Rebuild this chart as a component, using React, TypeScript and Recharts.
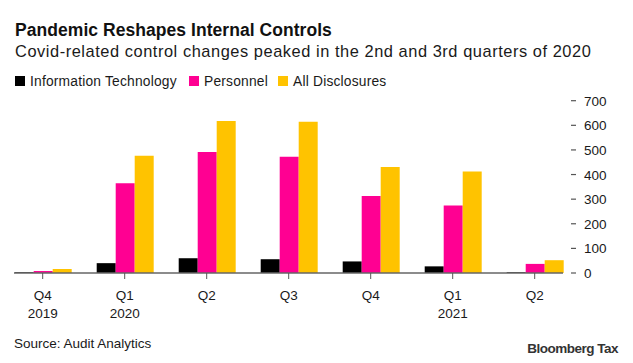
import { BarChart, Bar, XAxis, YAxis } from 'recharts';

const quarters = ['Q4', 'Q1', 'Q2', 'Q3', 'Q4', 'Q1', 'Q2'];
const years = ['2019', '2020', '', '', '', '2021', ''];
const infoTech = [3, 40, 60, 56, 47, 27, 3];
const personnel = [8, 365, 492, 472, 313, 274, 37];
const allDisclosures = [16, 476, 618, 614, 431, 412, 52];
const yTicks = [0, 100, 200, 300, 400, 500, 600, 700];

const data = quarters.map((q, i) => ({
    period: `${q} ${years[i]}`.trim() + `#${i}`,
    quarter: q,
    year: years[i],
    it: infoTech[i],
    personnel: personnel[i],
    all: allDisclosures[i],
}));

const FONT = '"Liberation Sans", Arial, Helvetica, sans-serif';
const TEXT = '#1a1a1a';

const legendItems = [
    { label: 'Information Technology', color: '#000000', x: 15 },
    { label: 'Personnel', color: '#ff0092', x: 189 },
    { label: 'All Disclosures', color: '#ffc300', x: 278 },
];

function QuarterTick(props: any) {
    const { x, y, index } = props;
    const d = data[index];
    return (
        <g>
            <text x={x} y={y + 19} textAnchor="middle" fontSize={13.5} fill={TEXT} fontFamily={FONT}>
                {d.quarter}
            </text>
            {d.year && (
                <text x={x} y={y + 37} textAnchor="middle" fontSize={13.5} fill={TEXT} fontFamily={FONT}>
                    {d.year}
                </text>
            )}
        </g>
    );
}

function ValueTick(props: any) {
    const { x, y, payload } = props;
    return (
        <g>
            <line x1={x + 8} x2={x + 13} y1={y} y2={y} stroke="#555" strokeWidth={1.2} />
            <text x={x + 21} y={y + 5} fontSize={13.5} fill={TEXT} fontFamily={FONT}>
                {payload.value}
            </text>
        </g>
    );
}

export default function App() {
    return (
        <div style={{ position: 'absolute', left: 0, top: 0, width: 633, height: 363, background: '#fff' }}>
            <BarChart
                width={633}
                height={363}
                data={data}
                margin={{ top: 100.7, right: 10, left: 14, bottom: 60 }}
                barCategoryGap={13}
                barGap={0}
            >
                <XAxis
                    dataKey="period"
                    height={30}
                    padding={{ left: -12.3, right: -12.7 }}
                    axisLine={{ stroke: '#666', strokeWidth: 1.5 }}
                    tickLine={{ stroke: '#555' }}
                    tickSize={6}
                    interval={0}
                    tick={<QuarterTick />}
                />
                <YAxis
                    orientation="right"
                    width={60}
                    domain={[0, 700]}
                    ticks={yTicks}
                    axisLine={false}
                    tickLine={false}
                    tickSize={0}
                    tickMargin={0}
                    tick={<ValueTick />}
                />
                <Bar dataKey="it" fill="#000000" isAnimationActive={false} />
                <Bar dataKey="personnel" fill="#ff0092" isAnimationActive={false} />
                <Bar dataKey="all" fill="#ffc300" isAnimationActive={false} />
            </BarChart>
            <svg
                width={633}
                height={363}
                style={{ position: 'absolute', left: 0, top: 0, pointerEvents: 'none' }}
                fontFamily={FONT}
            >
                <text x={15} y={36} fontSize={17.5} fontWeight="bold" fill="#111" letterSpacing={0.05}>
                    Pandemic Reshapes Internal Controls
                </text>
                <text x={15} y={56.7} fontSize={16.4} fill={TEXT} letterSpacing={0.55}>
                    Covid-related control changes peaked in the 2nd and 3rd quarters of 2020
                </text>
                {legendItems.map((item) => (
                    <g key={item.label}>
                        <rect x={item.x} y={76} width={10} height={10} fill={item.color} />
                        <text x={item.x + 15} y={85.5} fontSize={13.8} fill={TEXT} letterSpacing={0.2}>
                            {item.label}
                        </text>
                    </g>
                ))}
                <text x={14} y={348.3} fontSize={13.5} fill={TEXT}>
                    Source: Audit Analytics
                </text>
                <text x={618} y={353} textAnchor="end" fontSize={13.5} fontWeight="bold" fill="#333" letterSpacing={-0.5}>
                    Bloomberg Tax
                </text>
            </svg>
        </div>
    );
}
